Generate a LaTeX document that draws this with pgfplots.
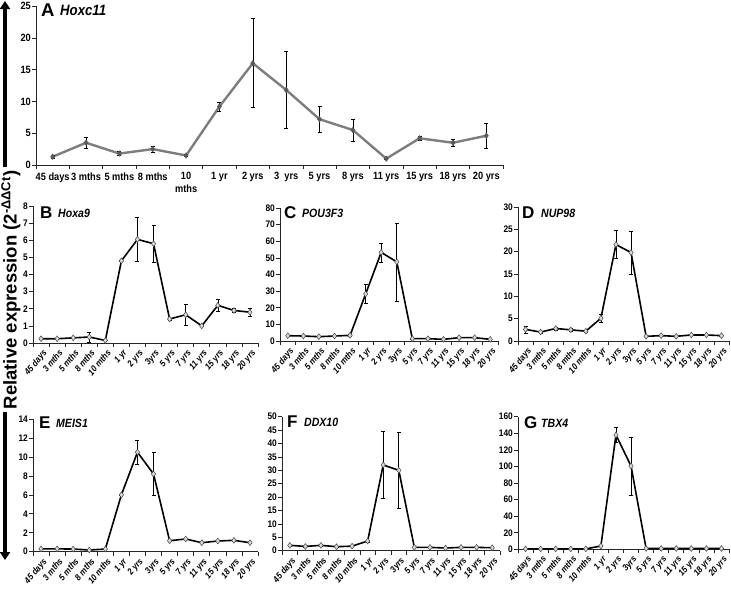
\documentclass[border=0pt]{standalone}
\usepackage{fontspec}
\setmainfont{Liberation Sans}
\newfontfamily\nar{Liberation Sans}[FakeStretch=0.88]
\usepackage{pgfplots}
\pgfplotsset{compat=1.18}
\usepackage{pgfplotstable}
\usetikzlibrary{arrows.meta}

\pgfplotstableread{
x y e
1 1.3 0.2
2 3.5 0.8
3 1.8 0.3
4 2.5 0.5
5 1.5 0.2
6 9.2 0.7
7 16.0 7.0
8 11.8 6.1
9 7.2 2.1
10 5.5 1.7
11 1.0 0.1
12 4.2 0.3
13 3.5 0.5
14 4.6 2.0
}\tA
\pgfplotstableread{
x y e
1 0.25 0.05
2 0.25 0.05
3 0.3 0.05
4 0.35 0.3
5 0.15 0.02
6 4.8 0.05
7 6.05 1.3
8 5.8 1.1
9 1.4 0.05
10 1.65 0.6
11 1.0 0.05
12 2.2 0.35
13 1.9 0.1
14 1.8 0.25
}\tB
\pgfplotstableread{
x y e
1 3.2 0.5
2 3.0 0.3
3 2.6 0.3
4 3.0 0.3
5 3.4 0.5
6 28.3 5.7
7 53.3 5.7
8 47.6 23.5
9 1.4 0.2
10 1.4 0.2
11 1.0 0.1
12 2.0 0.2
13 2.0 0.2
14 1.0 0.1
}\tC
\pgfplotstableread{
x y e
1 2.6 0.8
2 2.0 0.2
3 2.8 0.3
4 2.5 0.3
5 2.2 0.2
6 5.1 0.9
7 21.6 3.1
8 19.8 4.8
9 1.05 0.1
10 1.2 0.1
11 1.05 0.1
12 1.35 0.1
13 1.35 0.1
14 1.2 0.1
}\tD
\pgfplotstableread{
x y e
1 0.3 0.03
2 0.3 0.03
3 0.28 0.03
4 0.18 0.03
5 0.28 0.03
6 6.0 0.05
7 10.5 1.3
8 8.2 2.3
9 1.16 0.05
10 1.34 0.05
11 0.95 0.05
12 1.13 0.05
13 1.2 0.05
14 0.95 0.05
}\tE
\pgfplotstableread{
x y e
1 2.0 0.2
2 1.6 0.2
3 2.0 0.2
4 1.5 0.2
5 1.7 0.2
6 3.6 0.3
7 32.0 12.4
8 30.0 14.0
9 1.25 0.1
10 1.25 0.1
11 1.0 0.1
12 1.25 0.1
13 1.25 0.1
14 1.1 0.1
}\tF
\pgfplotstableread{
x y e
1 0.5 0.1
2 0.5 0.1
3 0.5 0.1
4 0.5 0.1
5 0.5 0.1
6 4.0 0.3
7 138 9
8 100.5 35
9 1.0 0.1
10 1.0 0.1
11 1.0 0.1
12 1.0 0.1
13 1.0 0.1
14 1.0 0.1
}\tG

\pgfplotsset{
  panel/.style={
    scale only axis, axis lines=left,
    axis line style={-, line width=0.6pt, black!85},
    xmin=0.5, xmax=14.5, ymin=0,
    xtick={1,...,14},
    minor xtick={0.5,1.5,...,14.5},
    tick align=outside, minor tick length=4pt, major tick length=0pt,
    tick style={black!85, line width=0.6pt},
    /pgf/number format/assume math mode=true,
    yticklabel style={font=\nar\bfseries\fontsize{9.5}{10}\selectfont, inner sep=1pt, xshift=-4pt},
    clip=false,
  },
  small/.style={panel,
    xticklabels={45 days,3 mths,5 mths,8 mths,10 mths,1 yr,2 yrs,3yrs,5 yrs,7 yrs,11 yrs,15 yrs,18 yrs,20 yrs},
    xticklabel style={yshift=-5pt, xshift=1pt, font=\nar\bfseries\itshape\fontsize{9}{9}\selectfont, rotate=50, anchor=north east, inner sep=0.5pt},
  },
  blk/.style={black, line width=1.6pt, mark=diamond*,
    mark options={fill=gray!30, draw=gray!55!black, line width=0.5pt, mark size=2.9pt},
    error bars/y dir=both, error bars/y explicit,
    error bars/error bar style={black, line width=0.6pt},
    error bars/error mark options={black, line width=0.6pt, mark size=2pt, rotate=90}},
}

\begin{document}
\begin{tikzpicture}
\useasboundingbox (0,0) rectangle (731pt,-592pt);

% A
\begin{axis}[panel, at={(36pt,-165pt)}, anchor=south west, width=467pt, height=159pt,
  ymax=25, ytick={0,5,...,25}, minor ytick={0,5,...,25},
  yticklabel style={font=\nar\bfseries\fontsize{10.5}{11}\selectfont},
  xticklabels={45 days,3 mths,5 mths,8 mths,{10\\mths},1 yr,2 yrs,3\ \ yrs,5 yrs,8 yrs,11 yrs,15 yrs,18 yrs,20 yrs},
  xticklabel style={yshift=-4pt, font=\nar\bfseries\fontsize{10.5}{13}\selectfont, align=center}]
\addplot[color={rgb,255:red,125;green,125;blue,125}, line width=2.4pt, mark=diamond*,
  mark options={fill={rgb,255:red,90;green,90;blue,90}, draw={rgb,255:red,90;green,90;blue,90}, line width=0.4pt, mark size=2.8pt},
  error bars/y dir=both, error bars/y explicit,
  error bars/error bar style={black, line width=0.6pt},
  error bars/error mark options={black, line width=0.6pt, mark size=2pt, rotate=90}]
  table[x=x, y=y, y error=e] {\tA};
\end{axis}

% B
\begin{axis}[small, at={(33pt,-343pt)}, anchor=south west, width=225pt, height=137pt,
  ymax=8, ytick={0,1,...,8}, minor ytick={0,1,...,8}]
\addplot[blk] table[x=x, y=y, y error=e] {\tB};
\end{axis}

% C
\begin{axis}[small, at={(280pt,-341pt)}, anchor=south west, width=218pt, height=133pt,
  ymax=80, ytick={0,10,...,80}, minor ytick={0,10,...,80}]
\addplot[blk] table[x=x, y=y, y error=e] {\tC};
\end{axis}

% D
\begin{axis}[small, at={(518pt,-341pt)}, anchor=south west, width=211pt, height=134pt,
  ymax=30, ytick={0,5,...,30}, minor ytick={0,5,...,30}]
\addplot[blk] table[x=x, y=y, y error=e] {\tD};
\end{axis}

% E
\begin{axis}[small, at={(33pt,-551.7pt)}, anchor=south west, width=225pt, height=132.7pt,
  ymax=14, ytick={0,2,...,14}, minor ytick={0,2,...,14}]
\addplot[blk] table[x=x, y=y, y error=e] {\tE};
\end{axis}

% F
\begin{axis}[small, at={(282pt,-550.7pt)}, anchor=south west, width=218pt, height=134pt,
  ymax=50, ytick={0,5,...,50}, minor ytick={0,5,...,50}]
\addplot[blk] table[x=x, y=y, y error=e] {\tF};
\end{axis}

% G
\begin{axis}[small, at={(518pt,-549.3pt)}, anchor=south west, width=211pt, height=132.6pt,
  ymax=160, ytick={0,20,...,160}, minor ytick={0,20,...,160}]
\addplot[blk] table[x=x, y=y, y error=e] {\tG};
\end{axis}

% panel titles
\def\T#1#2#3#4#5#6#7{%
  \node[anchor=west, inner sep=0pt, font=\bfseries\fontsize{#6}{#6}\selectfont] at (#1pt,-#3pt) {#4};
  \node[anchor=west, inner sep=0pt, font=\nar\bfseries\itshape\fontsize{#7}{#7}\selectfont] at (#2pt,-#3pt) {#5};}
\T{41}{60}{10.5}{A}{Hoxc11}{18.5}{15}
\T{40}{58}{213}{B}{Hoxa9}{17}{12}
\T{284}{302}{213}{C}{POU3F3}{17}{12}
\T{522}{541}{213}{D}{NUP98}{17}{12}
\T{39}{56}{423}{E}{MEIS1}{17}{12}
\T{287}{304}{422}{F}{DDX10}{17}{12}
\T{524}{541}{423}{G}{TBX4}{17}{12}

% y label and arrows
\node[rotate=90, inner sep=0pt, font=\bfseries\fontsize{18.5}{20}\selectfont] at (11pt,-290pt)
  {Relative expression (2\textsuperscript{-ΔΔCt})};
\draw[line width=3.6pt, -{Triangle[width=10pt,length=8pt]}] (5pt,-167pt) -- (5pt,-1pt);
\draw[line width=3.6pt, -{Triangle[width=10pt,length=8pt]}] (5pt,-412pt) -- (5pt,-560pt);
\end{tikzpicture}
\end{document}
